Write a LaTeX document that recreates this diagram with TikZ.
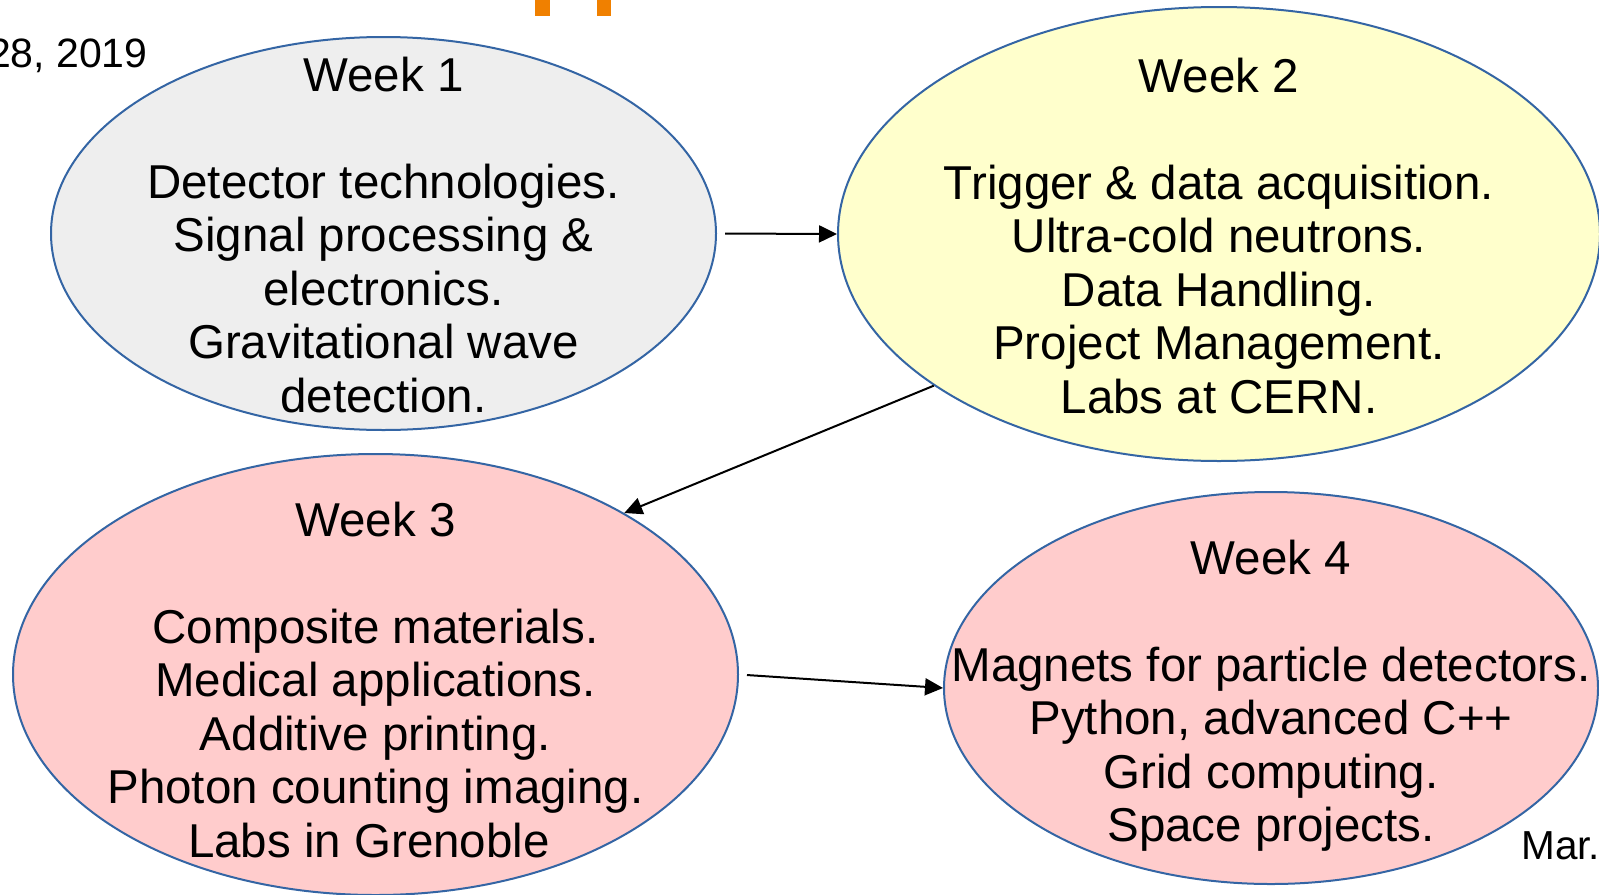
\documentclass[tikz,border=0pt]{standalone}
\usepackage{fontspec}
\setmainfont{Liberation Sans}
\usepackage{xcolor}
\usepackage{tikz}
\usetikzlibrary{arrows.meta,shapes.geometric}
\definecolor{wkline}{HTML}{3465A4}
\definecolor{wkgrey}{HTML}{EEEEEE}
\definecolor{wkyellow}{HTML}{FFFFCC}
\definecolor{wkpink}{HTML}{FFCCCC}
\definecolor{wkorange}{HTML}{F08000}
\tikzset{
  wkshape/.style={ellipse,draw=wkline,line width=1pt,inner sep=0pt},
  wkfont/.style={font=\fontsize{23.75}{26.75}\selectfont,align=center,inner sep=0pt},
  wkarrow/.style={line width=1pt,-{Triangle[length=9pt,width=8.5pt]}}}
% one week: name, centre x, centre y, half width, half height, fill
\newcommand{\wkell}[6]{%
  \node[wkshape,fill=#6,minimum width=#4pt,minimum height=#5pt] (#1) at (#2,#3) {};}
\newcommand{\wktext}[4]{\node[wkfont] (#1) at (#2,#3) {#4};}
\newcommand{\wksp}{\hspace*{0.278em}}

\begin{document}
\begin{tikzpicture}[x=0.5pt,y=-0.5pt]
  \useasboundingbox (0,0) rectangle (1599,894);
  % slide leftovers
  \fill[wkorange] (535,0) rectangle (550,16);
  \fill[wkorange] (597,0) rectangle (611,16);
  \node[font=\fontsize{20.5}{24}\selectfont,anchor=base east,inner sep=0pt] (date) at (148,67) {28, 2019};
  \node[font=\fontsize{20.25}{24}\selectfont,anchor=base west,inner sep=0pt] (month) at (1521,859) {Mar.};
  % the four weeks
  \wkell{w1}{383.5}{233.5}{332.5}{196.5}{wkgrey}
  \wkell{w2}{1219}{234}{381}{227}{wkyellow}
  \wkell{w3}{375.5}{674.5}{362.5}{220.5}{wkpink}
  \wkell{w4}{1271}{688}{327}{196}{wkpink}
  \wktext{t1}{383.5}{235}{Week 1\\[26.75pt]Detector technologies.\\Signal processing \&\\electronics.\\Gravitational wave\wksp\\detection.}
  \wktext{t2}{1219}{236}{Week 2\\[26.75pt]Trigger \& data acquisition.\\Ultra-cold neutrons.\\Data Handling.\\Project Management.\\Labs at CERN.}
  \wktext{t3}{375.5}{680}{Week 3\\[26.75pt]Composite materials.\\Medical applications.\\Additive printing.\\Photon counting imaging.\\Labs in Grenoble\wksp}
  \wktext{t4}{1271}{695.5}{Week 4\\[26.75pt]Magnets for particle detectors.\\Python, advanced C++\\Grid computing.\\Space projects.}
  % order of the weeks
  \draw[wkarrow,shorten <=4pt] (w1.east) -- (w2.west);
  \draw[wkarrow] (w2.208) -- (w3.33);
  \draw[wkarrow,shorten <=4pt] (w3.east) -- (w4.west);
\end{tikzpicture}
\end{document}
